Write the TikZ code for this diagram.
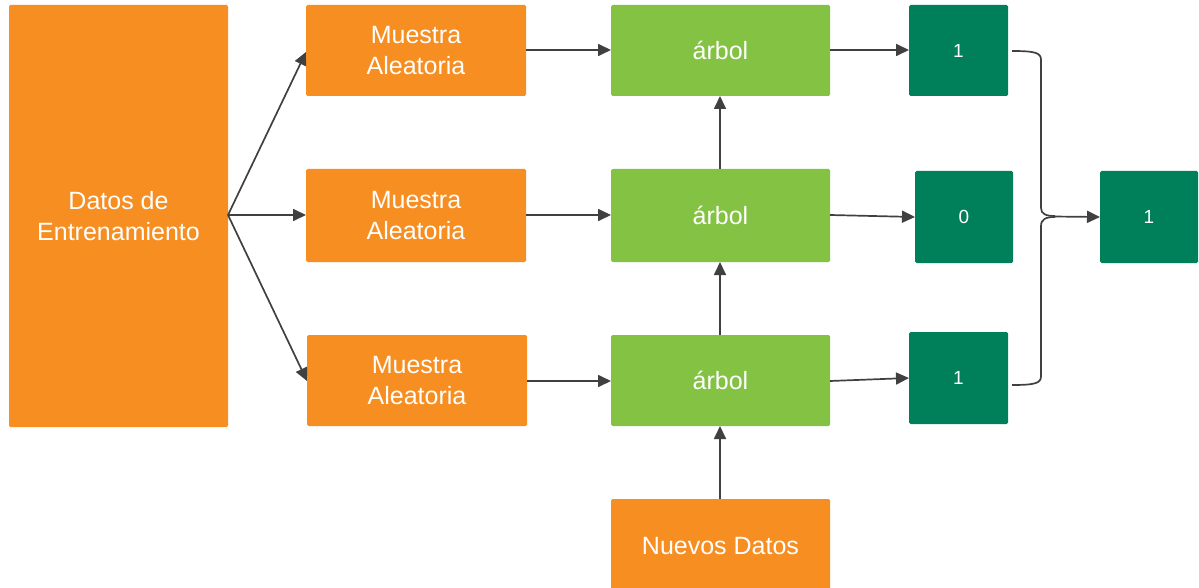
\documentclass[tikz,border=0pt]{standalone}
\usepackage{fontspec}
\setmainfont{Liberation Sans}
\usetikzlibrary{arrows.meta}
\definecolor{naranja}{RGB}{246,142,34}
\definecolor{verde}{RGB}{131,194,67}
\definecolor{verdeosc}{RGB}{0,128,90}
\definecolor{linea}{RGB}{64,64,64}
\begin{document}
\begin{tikzpicture}[x=1pt,y=-1pt,
  caja/.style={rounded corners=1.5pt, text=white, align=center, font=\fontsize{25}{31}\selectfont},
  cajanar/.style={caja, fill=naranja},
  cajaver/.style={caja, fill=verde},
  cajaosc/.style={caja, fill=verdeosc, font=\fontsize{19}{22}\selectfont},
  flecha/.style={draw=linea, line width=1.7pt, -{Triangle[length=13pt,width=12pt]}},
  trazo/.style={draw=linea, line width=1.7pt}]
\useasboundingbox (0,0) rectangle (1199,588);
% training data
\path[cajanar] (9,5) rectangle (228,427);
\node[cajanar, fill=none] (datos) at (118.5,216) {Datos de\\Entrenamiento};
% random samples
\path[cajanar] (306,5) rectangle (526,96);
\node[cajanar, fill=none] (m1) at (416,51) {Muestra\\Aleatoria};
\path[cajanar] (306,169) rectangle (526,262);
\node[cajanar, fill=none] (m2) at (416,215.5) {Muestra\\Aleatoria};
\path[cajanar] (307,335) rectangle (527,426);
\node[cajanar, fill=none] (m3) at (417,381) {Muestra\\Aleatoria};
% trees
\path[cajaver] (611,5) rectangle (830,96);
\node[cajaver, fill=none] (a1) at (720.5,50.5) {árbol};
\path[cajaver] (611,169) rectangle (830,262);
\node[cajaver, fill=none] (a2) at (720.5,215.5) {árbol};
\path[cajaver] (611,335) rectangle (830,426);
\node[cajaver, fill=none] (a3) at (720.5,380.5) {árbol};
% new data
\path[cajanar] (611,499) rectangle (830,590);
\node[cajanar, fill=none] (nuevos) at (720.5,546) {Nuevos Datos};
% votes
\path[cajaosc] (909,5) rectangle (1008,96);
\node[cajaosc, fill=none] (v1) at (958.5,50.5) {1};
\path[cajaosc] (915,171) rectangle (1013,263);
\node[cajaosc, fill=none] (v2) at (964,217) {0};
\path[cajaosc] (909,332) rectangle (1008,424);
\node[cajaosc, fill=none] (v3) at (958.5,378) {1};
\path[cajaosc] (1100,171) rectangle (1198,263);
\node[cajaosc, fill=none] (res) at (1149,217) {1};
% connection points
\coordinate (dsal) at (228,215);
\coordinate (m1e) at (306,52);
\coordinate (m2e) at (306,215);
\coordinate (m3e) at (307,381);
\coordinate (m1s) at (526,50);
\coordinate (m2s) at (526,215);
\coordinate (m3s) at (527,381);
\coordinate (a1e) at (611,50);
\coordinate (a2e) at (611,215);
\coordinate (a3e) at (611,381);
\coordinate (a1s) at (830,50);
\coordinate (a2s) at (830,215);
\coordinate (a3s) at (830,381);
\coordinate (v1e) at (909,50);
\coordinate (v2e) at (915,217);
\coordinate (v3e) at (909,378);
\coordinate (a1b) at (720,96);
\coordinate (a2t) at (720,169);
\coordinate (a2b) at (720,262);
\coordinate (a3t) at (720,335);
\coordinate (a3b) at (720,426);
\coordinate (nt) at (720,499);
\coordinate (v1s) at (1012,51);
\coordinate (v3s) at (1012,385);
\coordinate (rese) at (1100,217);
% arrows
\draw[flecha] (dsal) -- (m1e);
\draw[flecha] (dsal) -- (m2e);
\draw[flecha] (dsal) -- (m3e);
\draw[flecha] (m1s) -- (a1e);
\draw[flecha] (m2s) -- (a2e);
\draw[flecha] (m3s) -- (a3e);
\draw[flecha] (a1s) -- (v1e);
\draw[flecha] (a2s) -- (v2e);
\draw[flecha] (a3s) -- (v3e);
\draw[flecha] (a2t) -- (a1b);
\draw[flecha] (a3t) -- (a2b);
\draw[flecha] (nt) -- (a3b);
% brace collecting the votes
\draw[trazo] (v1s) .. controls (1036,51) and (1041,53) .. (1041,60)
  -- (1041,208) .. controls (1041,214) and (1046,216) .. (1055,216);
\draw[trazo] (v3s) .. controls (1036,385) and (1041,383) .. (1041,376)
  -- (1041,226) .. controls (1041,219) and (1046,217) .. (1055,217);
\draw[flecha] (1052,216.5) -- (rese);
\end{tikzpicture}
\end{document}
